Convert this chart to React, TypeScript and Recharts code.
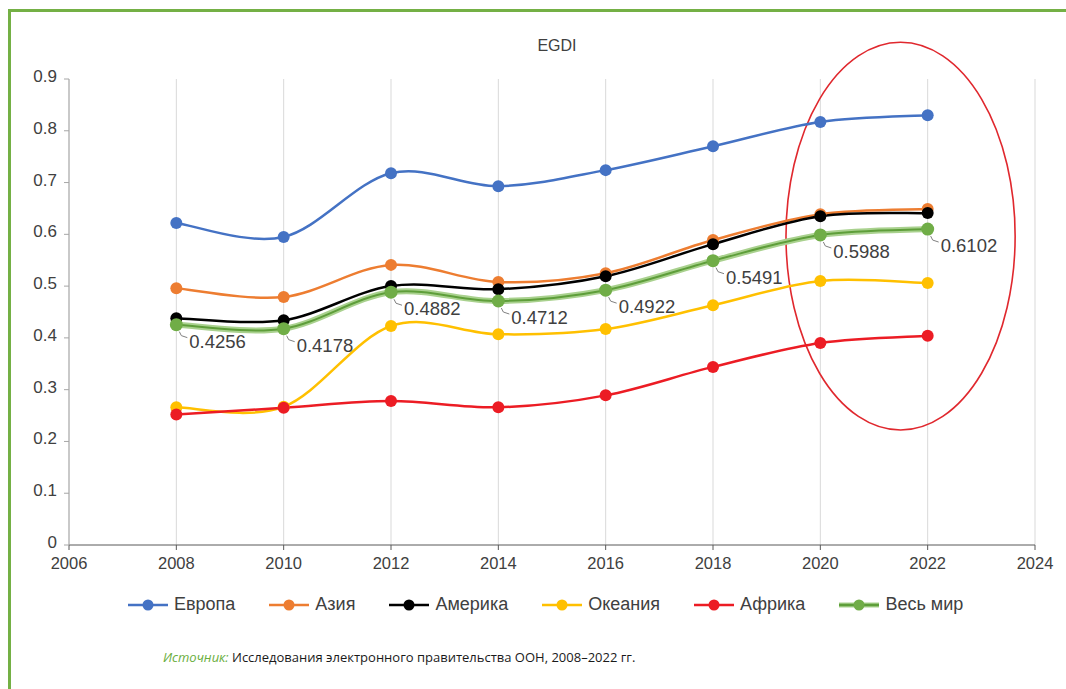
import React from "react";
import {
  LineChart,
  Line,
  XAxis,
  YAxis,
  CartesianGrid,
  ReferenceArea,
} from "recharts";

const years = [2008, 2010, 2012, 2014, 2016, 2018, 2020, 2022];
const europe = [0.622, 0.595, 0.718, 0.693, 0.724, 0.77, 0.817, 0.83];
const asia = [0.496, 0.479, 0.541, 0.508, 0.525, 0.589, 0.639, 0.649];
const america = [0.438, 0.434, 0.5, 0.494, 0.519, 0.581, 0.635, 0.641];
const oceania = [0.266, 0.267, 0.423, 0.407, 0.417, 0.463, 0.51, 0.506];
const africa = [0.252, 0.265, 0.278, 0.266, 0.289, 0.344, 0.39, 0.404];
const world = [0.4256, 0.4178, 0.4882, 0.4712, 0.4922, 0.5491, 0.5988, 0.6102];

const xTicks = [2006, 2008, 2010, 2012, 2014, 2016, 2018, 2020, 2022, 2024];
const yTicks = [0, 0.1, 0.2, 0.3, 0.4, 0.5, 0.6, 0.7, 0.8, 0.9];
const yTickLabels = ["0", "0.1", "0.2", "0.3", "0.4", "0.5", "0.6", "0.7", "0.8", "0.9"];

const seriesNames = ["Европа", "Азия", "Америка", "Океания", "Африка", "Весь мир"];
const seriesKeys = ["europe", "asia", "america", "oceania", "africa", "world"];
const seriesColors = ["#4472C4", "#ED7D31", "#000000", "#FFC000", "#EC1C24", "#70AD47"];

const data = years.map((y, i) => ({
  year: y,
  europe: europe[i],
  asia: asia[i],
  america: america[i],
  oceania: oceania[i],
  africa: africa[i],
  world: world[i],
}));

// Catmull-Rom style smoothing (similar to Excel's smoothed lines)
function smoothCurve(context: any) {
  let pts: number[][] = [];
  return {
    areaStart() {},
    areaEnd() {},
    lineStart() {
      pts = [];
    },
    lineEnd() {
      if (!pts.length) return;
      context.moveTo(pts[0][0], pts[0][1]);
      for (let i = 0; i < pts.length - 1; i++) {
        const p0 = pts[i - 1] || pts[i];
        const p1 = pts[i];
        const p2 = pts[i + 1];
        const p3 = pts[i + 2] || p2;
        context.bezierCurveTo(
          p1[0] + (p2[0] - p0[0]) / 6,
          p1[1] + (p2[1] - p0[1]) / 6,
          p2[0] - (p3[0] - p1[0]) / 6,
          p2[1] - (p3[1] - p1[1]) / 6,
          p2[0],
          p2[1]
        );
      }
    },
    point(x: number, y: number) {
      pts.push([+x, +y]);
    },
  };
}

const FONT = "'Liberation Sans', Arial, sans-serif";

const WorldLabel = (props: any) => {
  const { x, y, value } = props;
  if (x == null || y == null) return null;
  return (
    <g>
      <polyline
        points={`${x + 3},${y + 7} ${x + 5},${y + 11} ${x + 11},${y + 13}`}
        fill="none"
        stroke="#808080"
        strokeWidth={1}
      />
      <text x={x + 13} y={y + 23} fontSize={18.5} fill="#404040" fontFamily={FONT}>
        {String(value)}
      </text>
    </g>
  );
};

const YTick = (props: any) => {
  const { x, y, payload } = props;
  const idx = yTicks.indexOf(payload.value);
  return (
    <text
      x={x}
      y={y - 3}
      dy="0.355em"
      textAnchor="end"
      fontSize={17}
      fill="#404040"
      fontFamily={FONT}
    >
      {idx >= 0 ? yTickLabels[idx] : String(payload.value)}
    </text>
  );
};

const EllipseShape = (props: any) => {
  const { x, y, width, height } = props;
  if (x == null) return null;
  return (
    <ellipse
      cx={x + width / 2}
      cy={y + height / 2}
      rx={width / 2}
      ry={height / 2}
      fill="none"
      stroke="#E0282E"
      strokeWidth={1.6}
    />
  );
};

export default function App() {
  return (
    <div
      style={{
        position: "fixed",
        left: 0,
        top: 0,
        width: 1066,
        height: 689,
        background: "#ffffff",
        overflow: "hidden",
      }}
    >
      <div
        style={{
          position: "absolute",
          left: 8,
          top: 9,
          width: 1100,
          height: 700,
          borderLeft: "3px solid #74B045",
          borderTop: "3px solid #74B045",
        }}
      />
      <div
        style={{
          position: "absolute",
          left: 0,
          width: 1114,
          top: 37,
          textAlign: "center",
          fontFamily: FONT,
          fontSize: 16,
          color: "#404040",
        }}
      >
        EGDI
      </div>
      <div style={{ position: "absolute", left: 0, top: 0 }}>
        <LineChart
          width={1066}
          height={585}
          data={data}
          margin={{ top: 79, right: 31, left: 22, bottom: 8 }}
        >
          <CartesianGrid horizontal={false} stroke="#D9D9D9" verticalValues={xTicks} />
          <XAxis
            dataKey="year"
            type="number"
            domain={[2006, 2024]}
            ticks={xTicks}
            interval={0}
            axisLine={{ stroke: "#595959" }}
            tickLine={{ stroke: "#595959" }}
            tickSize={5}
            tickMargin={7}
            height={32}
            tick={{ fontSize: 16.5, fill: "#404040", fontFamily: FONT }}
            allowDataOverflow
          />
          <YAxis
            type="number"
            domain={[0, 0.9]}
            ticks={yTicks}
            interval={0}
            width={47}
            axisLine={{ stroke: "#A6A6A6" }}
            tickLine={{ stroke: "#A6A6A6" }}
            tickSize={5}
            tickMargin={7}
            tick={<YTick />}
          />
          <ReferenceArea
            x1={2019.36}
            x2={2023.63}
            y1={0.222}
            y2={0.971}
            ifOverflow="visible"
            shape={EllipseShape}
          />
          {seriesKeys.slice(0, 5).map((k, i) => (
            <Line
              key={k}
              dataKey={k}
              type={smoothCurve as any}
              stroke={seriesColors[i]}
              strokeWidth={2.5}
              dot={{ r: 6, fill: seriesColors[i], stroke: "none" }}
              activeDot={false}
              isAnimationActive={false}
            />
          ))}
          <Line
            dataKey="world"
            type={smoothCurve as any}
            stroke="#A9D18E"
            strokeWidth={6}
            dot={false}
            activeDot={false}
            legendType="none"
            isAnimationActive={false}
          />
          <Line
            dataKey="world"
            type={smoothCurve as any}
            stroke="#5E9E3A"
            strokeWidth={2}
            dot={{ r: 6.5, fill: "#70AD47", stroke: "none" }}
            activeDot={false}
            label={<WorldLabel />}
            isAnimationActive={false}
          />
        </LineChart>
      </div>
      <div
        style={{
          position: "absolute",
          left: 128,
          top: 594,
          display: "flex",
          alignItems: "center",
          fontFamily: FONT,
          fontSize: 18,
          color: "#404040",
          whiteSpace: "nowrap",
        }}
      >
        {seriesNames.map((n, i) => (
          <div
            key={n}
            style={{ display: "flex", alignItems: "center", marginRight: i < 5 ? 34 : 0 }}
          >
            <svg width={40} height={14} style={{ marginRight: 6 }}>
              {i === 5 ? (
                <line x1={0} y1={7} x2={40} y2={7} stroke="#A9D18E" strokeWidth={5} />
              ) : null}
              <line
                x1={0}
                y1={7}
                x2={40}
                y2={7}
                stroke={i === 5 ? "#5E9E3A" : seriesColors[i]}
                strokeWidth={2.5}
              />
              <circle cx={20} cy={7} r={5.5} fill={seriesColors[i]} />
            </svg>
            <span>{n}</span>
          </div>
        ))}
      </div>
      <div
        style={{
          position: "absolute",
          left: 163,
          top: 648,
          fontFamily: "'Open Sans', 'Noto Sans', sans-serif",
          fontSize: 13,
          color: "#1a1a1a",
          whiteSpace: "nowrap",
        }}
      >
        <span style={{ color: "#6AAE3E", fontStyle: "italic" }}>Источник: </span>
        Исследования электронного правительства ООН, 2008–2022 гг.
      </div>
    </div>
  );
}
